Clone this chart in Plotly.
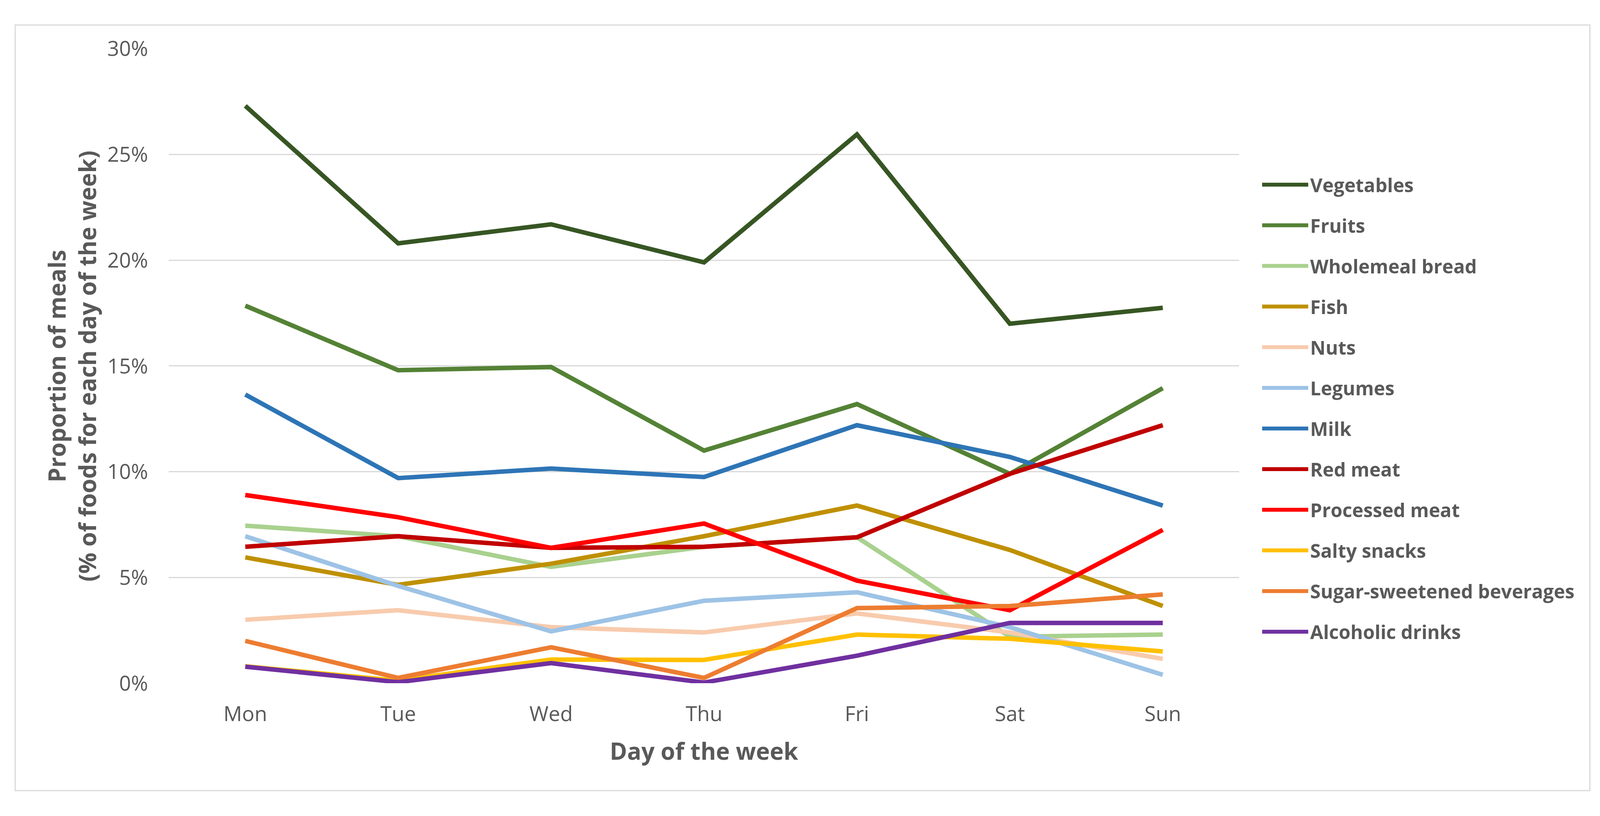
import plotly.graph_objects as go

# ---------------- data (values in %) ----------------
days = ["Mon", "Tue", "Wed", "Thu", "Fri", "Sat", "Sun"]

vegetables      = [27.3, 20.8, 21.7, 19.9, 25.95, 17.0, 17.75]
fruits          = [17.85, 14.8, 14.95, 11.0, 13.2, 9.9, 13.95]
wholemeal_bread = [7.45, 6.95, 5.5, 6.45, 6.9, 2.2, 2.3]
fish            = [5.95, 4.65, 5.65, 6.95, 8.4, 6.3, 3.65]
nuts            = [3.0, 3.45, 2.65, 2.4, 3.3, 2.4, 1.15]
legumes         = [6.95, 4.6, 2.45, 3.9, 4.3, 2.65, 0.4]
milk            = [13.65, 9.7, 10.15, 9.75, 12.2, 10.7, 8.4]
red_meat        = [6.45, 6.95, 6.4, 6.45, 6.9, 9.9, 12.2]
processed_meat  = [8.9, 7.85, 6.4, 7.55, 4.85, 3.45, 7.25]
salty_snacks    = [0.8, 0.12, 1.12, 1.1, 2.3, 2.1, 1.5]
sugar_beverages = [2.0, 0.25, 1.7, 0.25, 3.55, 3.65, 4.2]
alcoholic       = [0.78, 0.05, 0.95, 0.03, 1.3, 2.85, 2.85]

series_names = ["Vegetables", "Fruits", "Wholemeal bread", "Fish", "Nuts",
                "Legumes", "Milk", "Red meat", "Processed meat",
                "Salty snacks", "Sugar-sweetened beverages", "Alcoholic drinks"]
series_values = [vegetables, fruits, wholemeal_bread, fish, nuts, legumes,
                 milk, red_meat, processed_meat, salty_snacks,
                 sugar_beverages, alcoholic]
series_colors = ["#375623", "#548235", "#A9D18E", "#BF9000", "#F8CBAD",
                 "#9DC3E6", "#2E75B6", "#C00000", "#FF0000", "#FFC000",
                 "#ED7D31", "#7030A0"]

y_ticks = [0, 5, 10, 15, 20, 25, 30]

# ---------------- layout geometry (reference pixels) ----------------
W, H = 4426, 2089
PL, PR, PT, PB = 467, 3428, 90, 1773          # plot area edges

def fx(x):      # pixel x -> figure fraction
    return x / W

def fy(y):      # pixel y (from top) -> figure fraction
    return 1 - y / H

TEXT = "#595959"
FONT = "Open Sans"

fig = go.Figure()
for name, vals, col in zip(series_names, series_values, series_colors):
    fig.add_trace(go.Scatter(
        x=days, y=[v / 100 for v in vals], mode="lines", name=name,
        legendgroup=name,
        line=dict(color=col, width=11.5),
        hovertemplate="%{x}: %{y:.1%}<extra>" + name + "</extra>",
    ))

fig.update_layout(
    width=W, height=H,
    margin=dict(l=0, r=0, t=0, b=0, pad=0),
    paper_bgcolor="white", plot_bgcolor="white",
    font=dict(family=FONT, color=TEXT),
    showlegend=True,
    legend=dict(
        x=fx(3486), y=fy(411), xanchor="left", yanchor="top",
        font=dict(family=FONT, size=48.5, color=TEXT, weight="bold"),
        itemwidth=118, tracegroupgap=38, traceorder="grouped",
        bgcolor="rgba(0,0,0,0)", borderwidth=0,
    ),
    xaxis=dict(
        domain=[fx(PL), fx(PR)],
        type="category", range=[-0.5, 6.5], showgrid=False, zeroline=False,
        showline=False, ticks="", tickfont=dict(size=53, color=TEXT, family=FONT),
        ticklabelstandoff=43,
    ),
    yaxis=dict(
        domain=[fy(PB), fy(PT)],
        range=[0, 0.30], tickvals=[t / 100 for t in y_ticks],
        ticktext=[f"{t}%" for t in y_ticks],
        showgrid=True, gridcolor="#D9D9D9", gridwidth=3, zeroline=False,
        showline=False, ticks="", tickfont=dict(size=53, color=TEXT, family=FONT),
        ticklabelstandoff=52,
    ),
    annotations=[
        dict(text="Day of the week", xref="paper", yref="paper",
             x=fx((PL + PR) / 2), y=fy(1952), xanchor="center", yanchor="middle",
             showarrow=False,
             font=dict(family=FONT, size=60, color=TEXT, weight="bold")),
        dict(text="Proportion of meals<br>(% of foods for each day of the week)",
             xref="paper", yref="paper", x=fx(199), y=fy((PT + PB) / 2),
             xanchor="center", yanchor="middle", textangle=-90,
             showarrow=False,
             font=dict(family=FONT, size=60, color=TEXT, weight="bold")),
    ],
    shapes=[
        dict(type="rect", xref="paper", yref="paper", layer="below",
             x0=fx(42), x1=fx(4398), y0=fy(2058), y1=fy(27),
             line=dict(color="#D9D9D9", width=3), fillcolor="rgba(0,0,0,0)"),
    ],
)

post = (
    "document.documentElement.style.margin='0';"
    "document.body.style.margin='0';document.body.style.overflow='hidden';"
    "var gd=document.getElementById('{plot_id}');"
    "Plotly.relayout(gd,{width:window.innerWidth,height:window.innerHeight});"
)
fig.write_html("out.html", post_script=post, config={"displayModeBar": False})
